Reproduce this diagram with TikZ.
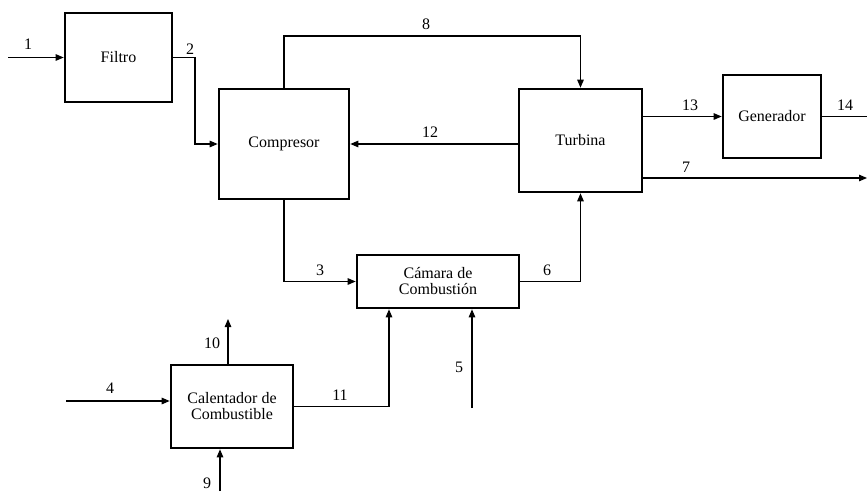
\documentclass[tikz,border=0pt]{standalone}
\usepackage{fontspec}
\setmainfont{Liberation Serif}
\usetikzlibrary{arrows.meta}
\begin{document}
\begin{tikzpicture}[x=1pt,y=-1pt,
  unit/.style={draw,line width=2.6pt,align=center,inner sep=0pt,
    font=\fontsize{16}{16}\selectfont},
  flow/.style={line width=1.1pt,-{Triangle[length=8pt,width=6.5pt]}},
  plain/.style={line width=1.1pt},
  num/.style={font=\fontsize{16}{16}\selectfont,inner sep=0pt}]
\useasboundingbox (0,0) rectangle (867,491);

% process units
\node[unit,minimum width=107pt,minimum height=89pt] (filtro) at (118.5,57.5) {Filtro};
\node[unit,minimum width=130pt,minimum height=110pt] (comp) at (284,144) {Compresor};
\node[unit,minimum width=123pt,minimum height=103pt] (turb) at (580.5,140.5) {Turbina};
\node[unit,minimum width=98pt,minimum height=83pt] (gen) at (772,116.5) {Generador};
\node[unit,minimum width=162pt,minimum height=53pt] (cam) at (438,281.5) {Cámara de\\Combustión};
\node[unit,minimum width=122pt,minimum height=83pt] (cal) at (232,406.5) {Calentador de\\Combustible};

% free ends and bends
\coordinate (s1) at (8,57.5);
\coordinate (b2) at (195,57.5);
\coordinate (c8) at (430,36);
\coordinate (o14) at (867,116.5);
\coordinate (o7) at (867,178);
\coordinate (s4) at (66,401);
\coordinate (o10) at (228,319);
\coordinate (s9) at (220,491);
\coordinate (k11) at (389,406.5);
\coordinate (s5) at (472,408);

% streams
\draw[flow] (s1) -- (filtro.west);
\draw[flow] (filtro.east) -- (b2) |- (comp.west);
\draw[flow] (comp.north) |- (c8) -| (turb.north);
\draw[flow] (turb.west |- comp.east) -- (comp.east);
\draw[flow] (turb.east |- gen.west) -- (gen.west);
\draw[plain] (gen.east) -- (o14);
\draw[flow] (turb.east |- o7) -- (o7);
\draw[flow] (comp.south) |- (cam.west);
\draw[flow] (cam.east) -| (turb.south);
\draw[flow] (s4) -- (s4 -| cal.west);
\draw[flow] (o10 |- cal.north) -- (o10);
\draw[flow] (s9) -- (s9 |- cal.south);
\draw[flow] (cal.east) -- (k11) -- (k11 |- cam.south);
\draw[flow] (s5) -- (s5 |- cam.south);

% stream numbers
\node[num] (n1) at (28,44) {1};
\node[num] (n2) at (190,49) {2};
\node[num] (n8) at (426,24) {8};
\node[num] (n12) at (430,132) {12};
\node[num] (n13) at (690,105) {13};
\node[num] (n14) at (845,105) {14};
\node[num] (n7) at (686,167) {7};
\node[num] (n3) at (320,270) {3};
\node[num] (n6) at (547,270) {6};
\node[num] (n4) at (110,388) {4};
\node[num] (n10) at (212,343) {10};
\node[num] (n9) at (207,483) {9};
\node[num] (n11) at (340,395) {11};
\node[num] (n5) at (459,367) {5};
\end{tikzpicture}
\end{document}
